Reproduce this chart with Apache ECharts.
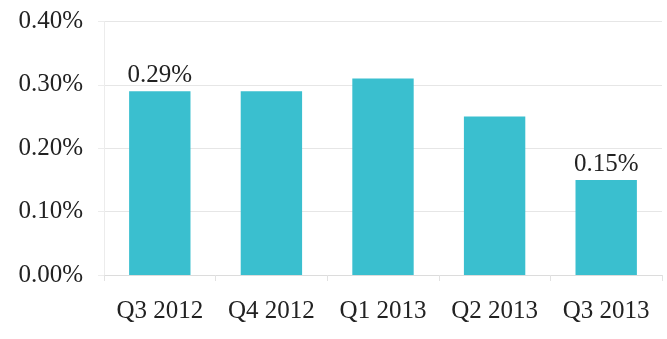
<!DOCTYPE html>
<html>
<head>
<meta charset="utf-8">
<script src="https://cdn.jsdelivr.net/npm/echarts@6/dist/echarts.min.js"></script>
<style>
  html, body { margin: 0; padding: 0; background: #fff; }
  #chart { width: 667px; height: 339px; }
</style>
</head>
<body>
<div id="chart"></div>
<script>
// Quarterly rate, in percent
const quarters = ['Q3 2012', 'Q4 2012', 'Q1 2013', 'Q2 2013', 'Q3 2013'];
const rates = [0.29, 0.29, 0.31, 0.25, 0.15];
// Only these bars carry a value label
const labelled = [true, false, false, false, true];
const yTicks = { min: 0, max: 0.4, interval: 0.1 };

const serif = 'Liberation Serif';
const textColor = '#222';
const faint = '#e6e6e6';

const chart = echarts.init(document.getElementById('chart'), null, { renderer: 'canvas' });

chart.setOption({
  animation: false,
  backgroundColor: '#fff',
  grid: { left: 104, right: 5, top: 21.5, bottom: 64, containLabel: false },
  xAxis: {
    type: 'category',
    data: quarters,
    axisLine: { show: true, lineStyle: { color: '#dcdcdc', width: 1 } },
    axisTick: { show: true, length: 6, alignWithLabel: false, lineStyle: { color: '#e2e2e2' } },
    axisLabel: {
      color: textColor, fontFamily: serif, fontSize: 25, margin: 24,
      interval: 0, hideOverlap: false
    }
  },
  yAxis: {
    type: 'value',
    min: yTicks.min,
    max: yTicks.max,
    interval: yTicks.interval,
    axisLine: { show: true, lineStyle: { color: '#ececec', width: 1 } },
    axisTick: { show: true, length: 6, lineStyle: { color: '#ececec' } },
    splitLine: { show: true, lineStyle: { color: faint, width: 1 } },
    axisLabel: {
      color: textColor, fontFamily: serif, fontSize: 25, margin: 21,
      formatter: v => v.toFixed(2) + '%'
    }
  },
  series: [{
    type: 'bar',
    barWidth: '55%',
    itemStyle: { color: '#3abfcf' },
    data: rates.map((v, i) => ({
      value: v,
      label: {
        show: labelled[i],
        position: 'top',
        distance: 3,
        color: textColor,
        fontFamily: serif,
        fontSize: 25,
        formatter: p => p.value.toFixed(2) + '%'
      }
    }))
  }]
});
</script>
</body>
</html>
